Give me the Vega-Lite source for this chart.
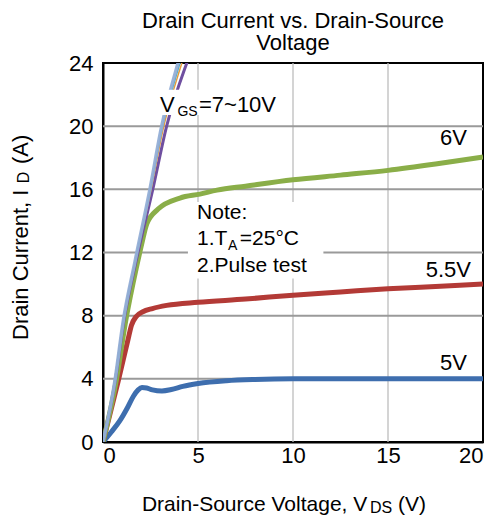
{
  "$schema": "https://vega.github.io/schema/vega-lite/v6.json",
  "width": 380,
  "height": 379,
  "autosize": "none",
  "padding": {"left": 103, "top": 63, "right": 12, "bottom": 81},
  "background": "white",
  "config": {
    "font": "Liberation Sans",
    "view": {"stroke": "#000000", "strokeWidth": 2},
    "axis": {"domainColor": "#000000", "domainWidth": 2, "ticks": false, "labelColor": "#000000", "labelFont": "Liberation Sans", "labelFontSize": 22, "title": null, "grid": false},
    "axisX": {"labelPadding": 3},
    "axisY": {"labelPadding": 10}
  },
  "title": {
    "text": ["Drain Current vs. Drain-Source", "Voltage"],
    "fontSize": 22,
    "fontWeight": "normal",
    "font": "Liberation Sans",
    "color": "#000000",
    "anchor": "middle",
    "lineHeight": 22,
    "offset": -3
  },
  "datasets": {
    "vgrid": [
      {"x": 5, "y": 0, "y2": 24},
      {"x": 10, "y": 0, "y2": 24},
      {"x": 15, "y": 0, "y2": 24}
    ],
    "hgrid": [
      {"y": 4, "x": 0, "x2": 20},
      {"y": 8, "x": 0, "x2": 20},
      {"y": 12, "x": 0, "x2": 20},
      {"y": 16, "x": 0, "x2": 20},
      {"y": 20, "x": 0, "x2": 20}
    ],
    "curves": [
      {"s": "5V", "x": 0, "y": 0}, {"s": "5V", "x": 0.45, "y": 0.65}, {"s": "5V", "x": 0.89, "y": 1.35}, {"s": "5V", "x": 1.3, "y": 2.2}, {"s": "5V", "x": 1.6, "y": 2.9}, {"s": "5V", "x": 1.85, "y": 3.3}, {"s": "5V", "x": 2.05, "y": 3.45}, {"s": "5V", "x": 2.3, "y": 3.42}, {"s": "5V", "x": 2.6, "y": 3.3}, {"s": "5V", "x": 3.1, "y": 3.23}, {"s": "5V", "x": 3.6, "y": 3.32}, {"s": "5V", "x": 4.2, "y": 3.52}, {"s": "5V", "x": 5, "y": 3.7}, {"s": "5V", "x": 6.5, "y": 3.88}, {"s": "5V", "x": 8, "y": 3.96}, {"s": "5V", "x": 10, "y": 4.0}, {"s": "5V", "x": 15, "y": 4.0}, {"s": "5V", "x": 20, "y": 4.0},
      {"s": "5.5V", "x": 0, "y": 0}, {"s": "5.5V", "x": 0.8, "y": 3.86}, {"s": "5.5V", "x": 1.3, "y": 6.4}, {"s": "5.5V", "x": 1.5, "y": 7.4}, {"s": "5.5V", "x": 1.75, "y": 7.95}, {"s": "5.5V", "x": 2.1, "y": 8.25}, {"s": "5.5V", "x": 2.6, "y": 8.45}, {"s": "5.5V", "x": 3.35, "y": 8.65}, {"s": "5.5V", "x": 5, "y": 8.85}, {"s": "5.5V", "x": 7.5, "y": 9.05}, {"s": "5.5V", "x": 10, "y": 9.3}, {"s": "5.5V", "x": 12.5, "y": 9.5}, {"s": "5.5V", "x": 15, "y": 9.7}, {"s": "5.5V", "x": 17.5, "y": 9.85}, {"s": "5.5V", "x": 20, "y": 10.0},
      {"s": "6V", "x": 0, "y": 0}, {"s": "6V", "x": 0.7, "y": 3.9}, {"s": "6V", "x": 1.2, "y": 7.7}, {"s": "6V", "x": 1.75, "y": 11.0}, {"s": "6V", "x": 2.05, "y": 12.6}, {"s": "6V", "x": 2.3, "y": 13.8}, {"s": "6V", "x": 2.9, "y": 14.75}, {"s": "6V", "x": 4.05, "y": 15.45}, {"s": "6V", "x": 5.1, "y": 15.7}, {"s": "6V", "x": 6, "y": 15.95}, {"s": "6V", "x": 7.5, "y": 16.2}, {"s": "6V", "x": 10, "y": 16.6}, {"s": "6V", "x": 12.5, "y": 16.9}, {"s": "6V", "x": 15, "y": 17.2}, {"s": "6V", "x": 17.5, "y": 17.6}, {"s": "6V", "x": 20, "y": 18.05},
      {"s": "7V", "x": 0, "y": 0}, {"s": "7V", "x": 0.65, "y": 3.9}, {"s": "7V", "x": 1.1, "y": 7.7}, {"s": "7V", "x": 1.73, "y": 11.4}, {"s": "7V", "x": 2.62, "y": 16}, {"s": "7V", "x": 3.35, "y": 20}, {"s": "7V", "x": 4.5, "y": 24.3}, {"s": "7V", "x": 4.8, "y": 25.3},
      {"s": "8V", "x": 0, "y": 0}, {"s": "8V", "x": 0.64, "y": 3.9}, {"s": "8V", "x": 1.09, "y": 7.7}, {"s": "8V", "x": 1.7, "y": 11.4}, {"s": "8V", "x": 2.53, "y": 16}, {"s": "8V", "x": 3.2, "y": 20}, {"s": "8V", "x": 4.15, "y": 24}, {"s": "8V", "x": 4.6, "y": 25.7},
      {"s": "9V", "x": 0, "y": 0}, {"s": "9V", "x": 0.635, "y": 3.9}, {"s": "9V", "x": 1.08, "y": 7.7}, {"s": "9V", "x": 1.69, "y": 11.4}, {"s": "9V", "x": 2.5, "y": 16}, {"s": "9V", "x": 3.14, "y": 20}, {"s": "9V", "x": 4.05, "y": 24}, {"s": "9V", "x": 4.5, "y": 25.8},
      {"s": "10V", "x": 0, "y": 0}, {"s": "10V", "x": 0.63, "y": 3.9}, {"s": "10V", "x": 1.07, "y": 7.7}, {"s": "10V", "x": 1.68, "y": 11.4}, {"s": "10V", "x": 2.47, "y": 16}, {"s": "10V", "x": 3.09, "y": 20}, {"s": "10V", "x": 3.95, "y": 24}, {"s": "10V", "x": 4.4, "y": 25.8}
    ],
    "boxes": [
      {"x": 2.75, "x2": 9.3, "y": 20.7, "y2": 22.3},
      {"x": 4.47, "x2": 11.6, "y": 10.35, "y2": 15.2}
    ],
    "labelVgs": [
      {"x": 3.0, "y": 20.89, "t": "V"},
      {"x": 5.05, "y": 20.89, "t": "=7~10V"}
    ],
    "note": [
      {"x": 4.95, "y": 14.1, "t": "Note:"},
      {"x": 4.95, "y": 12.47, "t": "1.T"},
      {"x": 7.2, "y": 12.47, "t": "=25°C"},
      {"x": 4.95, "y": 10.76, "t": "2.Pulse test"}
    ],
    "textRight": [
      {"x": 19.16, "y": 18.8, "t": "6V"},
      {"x": 19.37, "y": 10.44, "t": "5.5V"},
      {"x": 19.16, "y": 4.56, "t": "5V"}
    ],
    "subs": [
      {"x": 3.92, "y": 20.63, "t": "GS"},
      {"x": 6.58, "y": 12.15, "t": "A"}
    ],
    "xTitle": [
      {"x": 2.05, "y": -4.35, "t": "Drain-Source Voltage, V"},
      {"x": 15.53, "y": -4.35, "t": "(V)"}
    ],
    "xTitleSub": [
      {"x": 14.05, "y": -4.47, "t": "DS"}
    ],
    "yTitle": [
      {"x": -3.95, "y": 6.46, "t": "Drain Current, I"},
      {"x": -3.95, "y": 17.6, "t": "(A)"}
    ],
    "yTitleSub": [
      {"x": -3.87, "y": 16.39, "t": "D"}
    ]
  },
  "encoding": {
    "x": {"field": "x", "type": "quantitative", "scale": {"domain": [0, 20], "nice": false}, "axis": {"values": [0, 5, 10, 15, 20]}},
    "y": {"field": "y", "type": "quantitative", "scale": {"domain": [0, 24], "nice": false}, "axis": {"values": [0, 4, 8, 12, 16, 20, 24]}}
  },
  "layer": [
    {
      "data": {"name": "vgrid"},
      "mark": {"type": "rule", "color": "#bdbdbd", "strokeWidth": 1.3},
      "encoding": {"y2": {"field": "y2"}}
    },
    {
      "data": {"name": "hgrid"},
      "mark": {"type": "rule", "color": "#9a9a9a", "strokeWidth": 2},
      "encoding": {"x2": {"field": "x2"}}
    },
    {
      "data": {"name": "curves"},
      "transform": [{"filter": {"field": "s", "oneOf": ["5V", "5.5V", "6V"]}}],
      "mark": {"type": "line", "strokeWidth": 5, "interpolate": "monotone", "clip": true},
      "encoding": {
        "color": {"field": "s", "type": "nominal", "legend": null, "scale": {"domain": ["5V", "5.5V", "6V", "7V", "8V", "9V", "10V"], "range": ["#3e6eae", "#b33a36", "#8aae48", "#6f4fa0", "#e59a3c", "#4bacc6", "#93aed6"]}},
        "detail": {"field": "s"}
      }
    },
    {
      "data": {"name": "curves"},
      "transform": [{"filter": {"field": "s", "oneOf": ["7V"]}}],
      "mark": {"type": "line", "strokeWidth": 3, "interpolate": "monotone", "clip": true},
      "encoding": {
        "color": {"field": "s", "type": "nominal", "legend": null}
      }
    },
    {
      "data": {"name": "curves"},
      "transform": [{"filter": {"field": "s", "oneOf": ["8V", "9V"]}}],
      "mark": {"type": "line", "strokeWidth": 1.5, "interpolate": "monotone", "clip": true},
      "encoding": {
        "color": {"field": "s", "type": "nominal", "legend": null},
        "detail": {"field": "s"}
      }
    },
    {
      "data": {"name": "curves"},
      "transform": [{"filter": {"field": "s", "oneOf": ["10V"]}}],
      "mark": {"type": "line", "strokeWidth": 3.5, "interpolate": "monotone", "clip": true, "opacity": 0.95},
      "encoding": {
        "color": {"field": "s", "type": "nominal", "legend": null}
      }
    },
    {
      "data": {"name": "boxes"},
      "mark": {"type": "rect", "fill": "#ffffff", "stroke": null},
      "encoding": {
        "x2": {"field": "x2"},
        "y2": {"field": "y2"}
      }
    },
    {
      "data": {"name": "labelVgs"},
      "mark": {"type": "text", "align": "left", "baseline": "alphabetic", "fontSize": 22, "color": "#000000"},
      "encoding": {"text": {"field": "t"}}
    },
    {
      "data": {"name": "note"},
      "mark": {"type": "text", "align": "left", "baseline": "alphabetic", "fontSize": 21, "color": "#000000"},
      "encoding": {"text": {"field": "t"}}
    },
    {
      "data": {"name": "textRight"},
      "mark": {"type": "text", "align": "right", "baseline": "alphabetic", "fontSize": 22, "color": "#000000"},
      "encoding": {"text": {"field": "t"}}
    },
    {
      "data": {"name": "subs"},
      "mark": {"type": "text", "align": "left", "baseline": "alphabetic", "fontSize": 14, "color": "#000000"},
      "encoding": {"text": {"field": "t"}}
    },
    {
      "data": {"name": "xTitle"},
      "mark": {"type": "text", "align": "left", "baseline": "alphabetic", "fontSize": 21, "color": "#000000"},
      "encoding": {"text": {"field": "t"}}
    },
    {
      "data": {"name": "xTitleSub"},
      "mark": {"type": "text", "align": "left", "baseline": "alphabetic", "fontSize": 16, "color": "#000000"},
      "encoding": {"text": {"field": "t"}}
    },
    {
      "data": {"name": "yTitle"},
      "mark": {"type": "text", "align": "left", "baseline": "alphabetic", "fontSize": 22, "angle": 270, "color": "#000000"},
      "encoding": {"text": {"field": "t"}}
    },
    {
      "data": {"name": "yTitleSub"},
      "mark": {"type": "text", "align": "left", "baseline": "alphabetic", "fontSize": 16, "angle": 270, "color": "#000000"},
      "encoding": {"text": {"field": "t"}}
    }
  ]
}
